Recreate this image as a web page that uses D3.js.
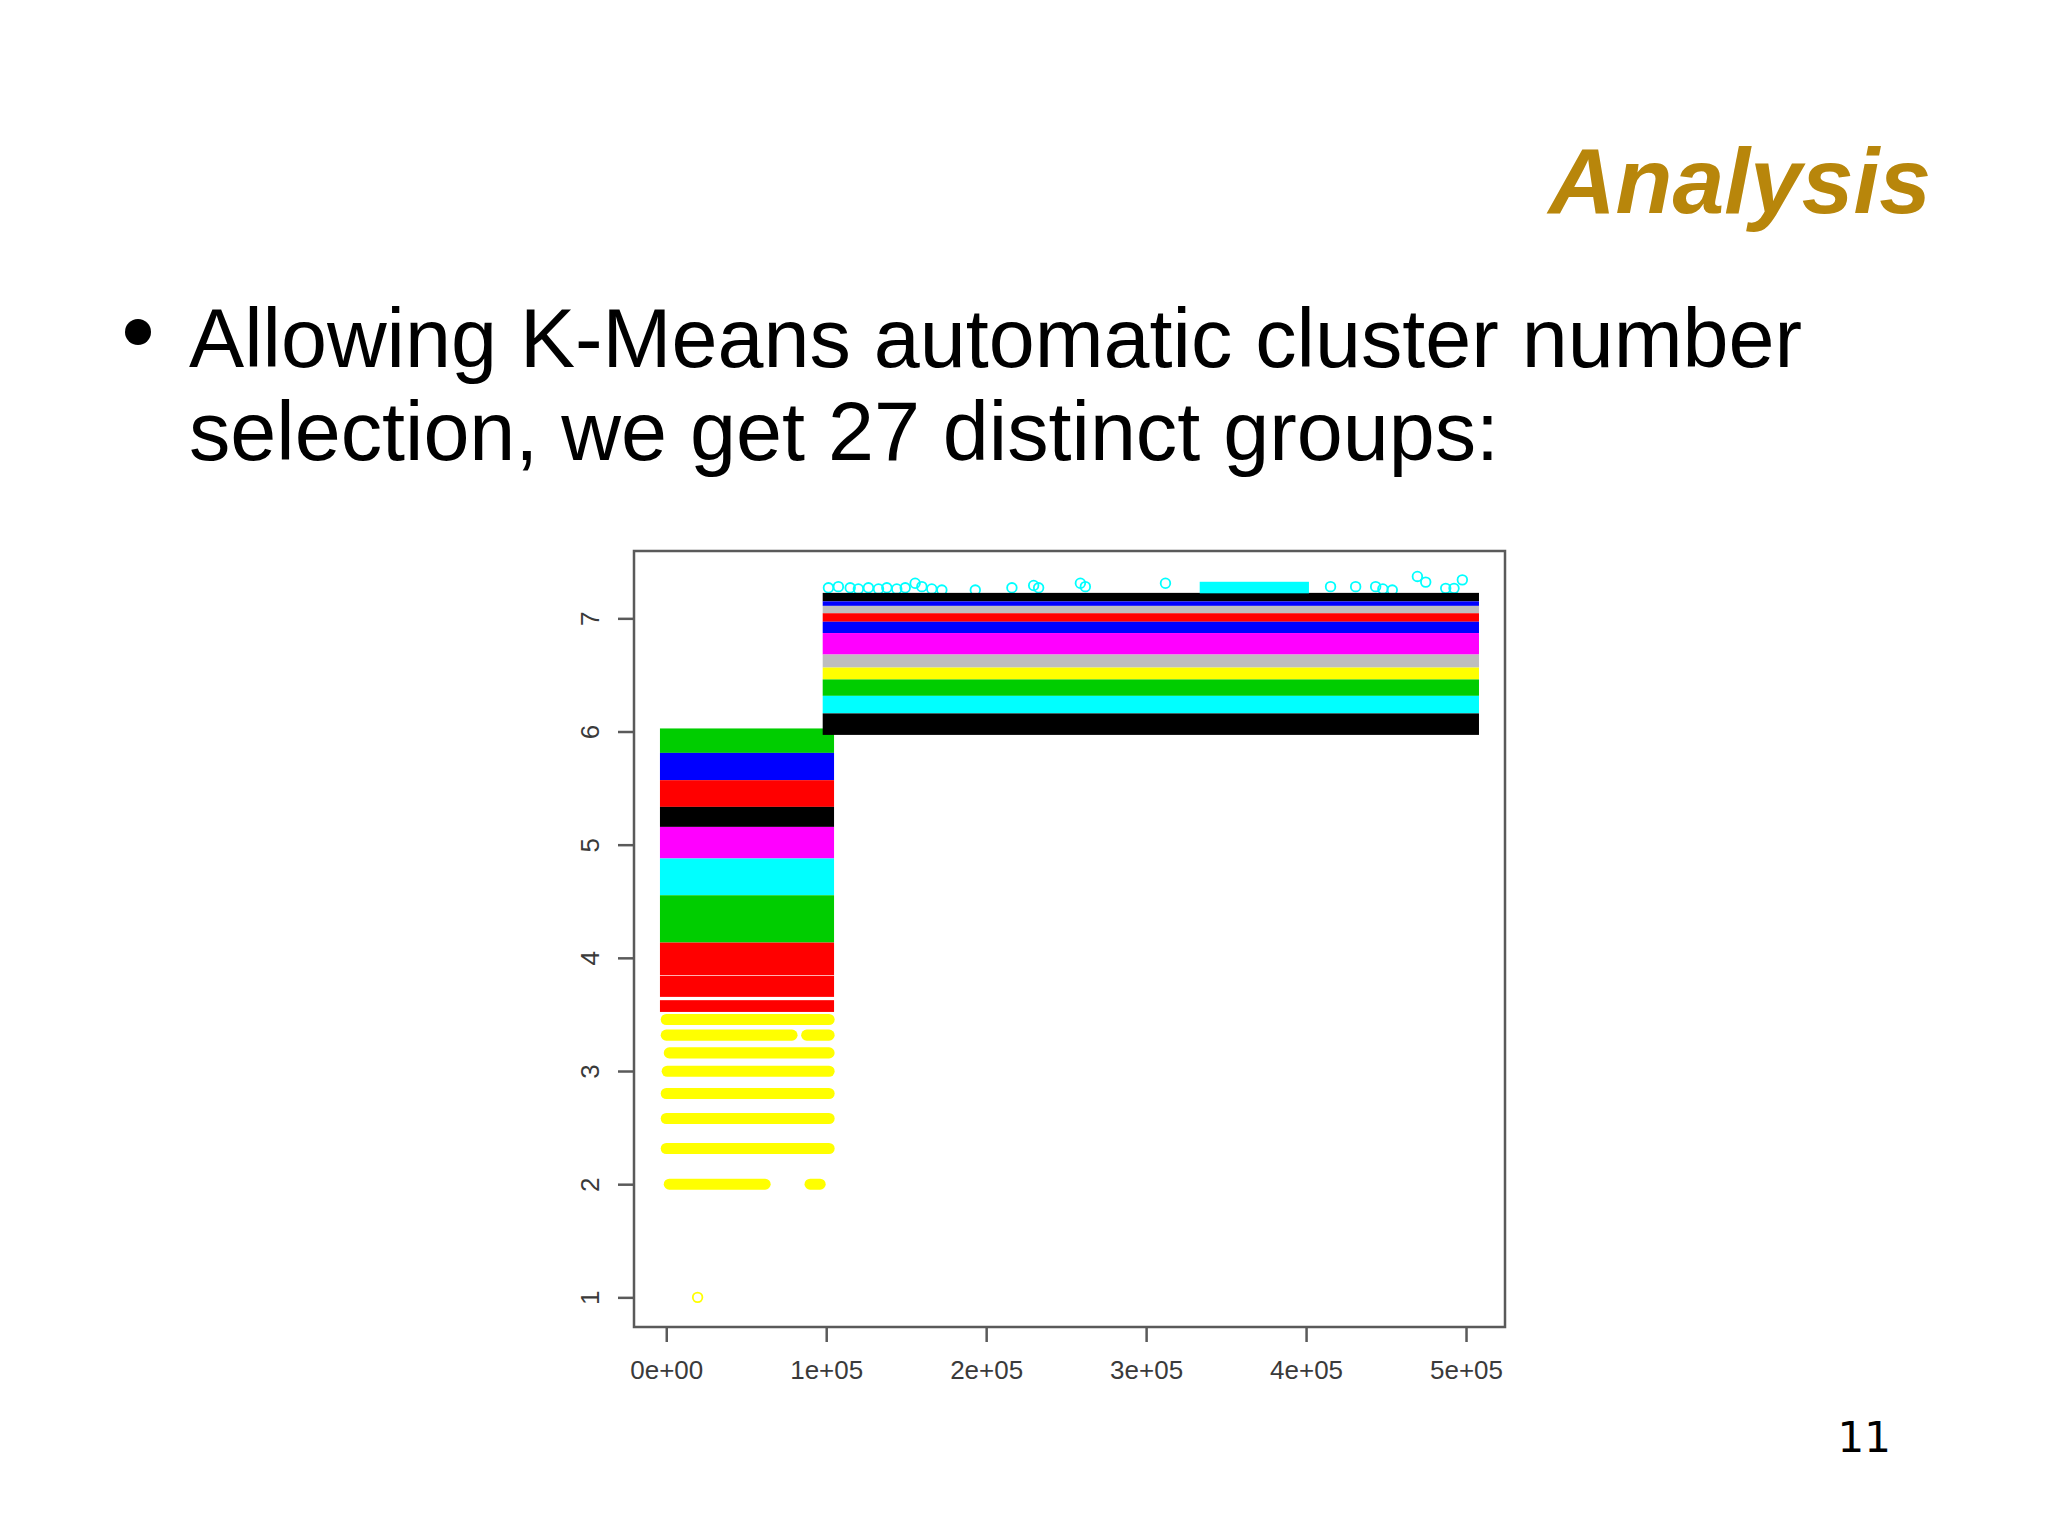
<!DOCTYPE html>
<html>
<head>
<meta charset="utf-8">
<script src="https://cdn.jsdelivr.net/npm/d3@7"></script>
<style>
  html, body { margin: 0; padding: 0; background: #ffffff; }
  svg { display: block; }
</style>
</head>
<body>
<script>
// ---------------- DATA ----------------
// Slide text
const titleText = "Analysis";
const bulletLines = ["Allowing K-Means automatic cluster number", "selection, we get 27 distinct groups:"];
const pageNumber = "11";

// Axis ticks
const xTickValues = [0, 100000, 200000, 300000, 400000, 500000];
const xTickLabels = ["0e+00", "1e+05", "2e+05", "3e+05", "4e+05", "5e+05"];
const yTickValues = [1, 2, 3, 4, 5, 6, 7];
const yTickLabels = ["1", "2", "3", "4", "5", "6", "7"];

// Plot limits (R style: data range padded by 4%)
const xDataRange = [1, 504200];
const yLimits = [0.738, 7.595];

// Dense (over-plotted) clusters: envelope of the plotted marks
const denseColor = ["green3", "blue", "red", "black", "magenta", "cyan", "green3", "red", "red", "red",
                    "black", "blue", "gray", "red", "blue", "magenta", "gray", "yellow", "green3", "cyan", "black",
                    "cyan"];
const denseX0 = [-3940, -3940, -3940, -3940, -3940, -3940, -3940, -3940, -3940, -3940,
                 97800, 97800, 97800, 97800, 97800, 97800, 97800, 97800, 97800, 97800, 97800,
                 333500];
const denseX1 = [104900, 104900, 104900, 104900, 104900, 104900, 104900, 104900, 104900, 104900,
                 508100, 508100, 508100, 508100, 508100, 508100, 508100, 508100, 508100, 508100, 508100,
                 401800];
const denseYLow = [5.811, 5.570, 5.334, 5.157, 4.878, 4.553, 4.135, 3.848, 3.655, 3.522,
                   7.150, 7.110, 7.045, 6.970, 6.870, 6.680, 6.565, 6.460, 6.315, 6.160, 5.970,
                   7.221];
const denseYHigh = [6.027, 5.811, 5.570, 5.334, 5.157, 4.878, 4.553, 4.135, 3.842, 3.626,
                    7.225, 7.150, 7.110, 7.045, 6.970, 6.870, 6.680, 6.565, 6.460, 6.315, 6.160,
                    7.323];

// Sparse rows of points (one value, a run of point indices)
const rowColor = ["yellow", "yellow", "yellow", "yellow", "yellow", "yellow", "yellow", "yellow", "yellow", "yellow"];
const rowY  = [3.455, 3.317, 3.317, 3.160, 2.998, 2.801, 2.580, 2.315, 2.000, 2.000];
const rowX0 = [1, 1, 87800, 1900, 600, 1, 1, 1, 1900, 89900];
const rowX1 = [101800, 78600, 101800, 101800, 101800, 101800, 101800, 101800, 61800, 96200];

// Isolated points
const ptColor = ["yellow",
  "cyan", "cyan", "cyan", "cyan", "cyan", "cyan", "cyan", "cyan", "cyan", "cyan",
  "cyan", "cyan", "cyan", "cyan", "cyan", "cyan", "cyan", "cyan", "cyan", "cyan",
  "cyan", "cyan", "cyan", "cyan", "cyan", "cyan", "cyan", "cyan", "cyan", "cyan"];
const ptX = [19600,
  101400, 107600, 115000, 120100, 126400, 132700, 137900, 144100, 149400, 155600,
  159800, 166000, 172300, 193200, 216100, 229700, 232800, 258900, 262000, 312100,
  415300, 431000, 443500, 453900, 469600, 474800, 487300, 492500, 497700, 448000];
const ptY = [1.0,
  7.27, 7.28, 7.27, 7.26, 7.27, 7.26, 7.27, 7.26, 7.27, 7.31,
  7.28, 7.26, 7.25, 7.25, 7.27, 7.29, 7.27, 7.31, 7.28, 7.31,
  7.28, 7.28, 7.28, 7.25, 7.37, 7.32, 7.265, 7.265, 7.34, 7.26];

// R palette
const paletteNames = ["black", "red", "green3", "blue", "cyan", "magenta", "yellow", "gray"];
const paletteHex   = ["#000000", "#ff0000", "#00cd00", "#0000ff", "#00ffff", "#ff00ff", "#ffff00", "#bebebe"];

// ---------------- DRAWING ----------------
const W = 2048, H = 1535;
const plot = { left: 634, right: 1505, top: 551, bottom: 1327 };
const markR = 4.8;

const svg = d3.select("body").append("svg").attr("width", W).attr("height", H);
svg.append("rect").attr("width", W).attr("height", H).attr("fill", "#ffffff");

const color = d3.scaleOrdinal().domain(paletteNames).range(paletteHex);

const pad = 0.04 * (xDataRange[1] - xDataRange[0]);
const x = d3.scaleLinear().domain([xDataRange[0] - pad, xDataRange[1] + pad]).range([plot.left, plot.right]);
const y = d3.scaleLinear().domain(yLimits).range([plot.bottom, plot.top]);

// Title
svg.append("text")
  .attr("x", 1931).attr("y", 213)
  .attr("text-anchor", "end")
  .attr("font-family", "Liberation Sans, Arial, sans-serif")
  .attr("font-weight", "bold").attr("font-style", "italic")
  .attr("font-size", 93)
  .attr("fill", "#b8860b")
  .text(titleText);

// Bullet
svg.append("circle").attr("cx", 138).attr("cy", 332).attr("r", 13).attr("fill", "#000");
svg.selectAll("text.bullet").data(bulletLines).enter().append("text")
  .attr("class", "bullet")
  .attr("x", 189).attr("y", (d, i) => 367 + i * 93)
  .attr("font-family", "Liberation Sans, Arial, sans-serif")
  .attr("font-size", 82.7)
  .attr("fill", "#000")
  .text(d => d);

// Page number
svg.append("text")
  .attr("x", 1891).attr("y", 1452)
  .attr("text-anchor", "end")
  .attr("font-family", "DejaVu Sans, sans-serif")
  .attr("font-size", 42)
  .attr("fill", "#000")
  .text(pageNumber);

// Plot group
const g = svg.append("g");

const dense = denseColor.map((c, i) => ({ c, x0: denseX0[i], x1: denseX1[i], y0: denseYLow[i], y1: denseYHigh[i] }));
const rows = rowColor.map((c, i) => ({ c, y: rowY[i], x0: rowX0[i], x1: rowX1[i] }));
const pts = ptColor.map((c, i) => ({ c, x: ptX[i], y: ptY[i] }));

const leftDense = dense.filter(d => d.x1 < 200000);
const rightDense = dense.filter(d => d.x1 >= 200000);

g.selectAll("line.row").data(rows).enter().append("line")
  .attr("class", "row")
  .attr("x1", d => x(d.x0)).attr("x2", d => x(d.x1))
  .attr("y1", d => y(d.y)).attr("y2", d => y(d.y))
  .attr("stroke", d => color(d.c))
  .attr("stroke-width", markR * 2 + 1.5)
  .attr("stroke-linecap", "round");

g.selectAll("rect.left").data(leftDense).enter().append("rect")
  .attr("class", "left")
  .attr("x", d => x(d.x0)).attr("width", d => x(d.x1) - x(d.x0))
  .attr("y", d => y(d.y1)).attr("height", d => y(d.y0) - y(d.y1))
  .attr("fill", d => color(d.c));

g.selectAll("circle.pt").data(pts).enter().append("circle")
  .attr("class", "pt")
  .attr("cx", d => x(d.x)).attr("cy", d => y(d.y))
  .attr("r", markR)
  .attr("fill", "none")
  .attr("stroke", d => color(d.c))
  .attr("stroke-width", 1.8);

g.selectAll("rect.right").data(rightDense).enter().append("rect")
  .attr("class", "right")
  .attr("x", d => x(d.x0)).attr("width", d => x(d.x1) - x(d.x0))
  .attr("y", d => y(d.y1)).attr("height", d => y(d.y0) - y(d.y1))
  .attr("fill", d => color(d.c));

// Axes
const axisColor = "#5a5a5a";
const xAxis = d3.axisBottom(x).tickValues(xTickValues).tickSize(15).tickPadding(19)
  .tickFormat((d, i) => xTickLabels[i]);
const yAxis = d3.axisLeft(y).tickValues(yTickValues).tickSize(16).tickPadding(18)
  .tickFormat((d, i) => yTickLabels[i]);

const gx = svg.append("g").attr("transform", `translate(0,${plot.bottom})`).call(xAxis);
gx.select(".domain").remove();
gx.selectAll(".tick line").attr("stroke", axisColor).attr("stroke-width", 2.5);
gx.selectAll(".tick text")
  .attr("font-family", "Liberation Sans, Arial, sans-serif")
  .attr("font-size", 26).attr("fill", "#3a3a3a");

const gy = svg.append("g").attr("transform", `translate(${plot.left},0)`).call(yAxis);
gy.select(".domain").remove();
gy.selectAll(".tick line").attr("stroke", axisColor).attr("stroke-width", 2.5);
gy.selectAll(".tick text")
  .attr("font-family", "Liberation Sans, Arial, sans-serif")
  .attr("font-size", 26).attr("fill", "#3a3a3a")
  .attr("x", null).attr("dy", null)
  .attr("text-anchor", "middle")
  .attr("transform", "translate(-35,0) rotate(-90)");

// Box
svg.append("rect")
  .attr("x", plot.left).attr("y", plot.top)
  .attr("width", plot.right - plot.left).attr("height", plot.bottom - plot.top)
  .attr("fill", "none").attr("stroke", axisColor).attr("stroke-width", 2.5);
</script>
</body>
</html>
